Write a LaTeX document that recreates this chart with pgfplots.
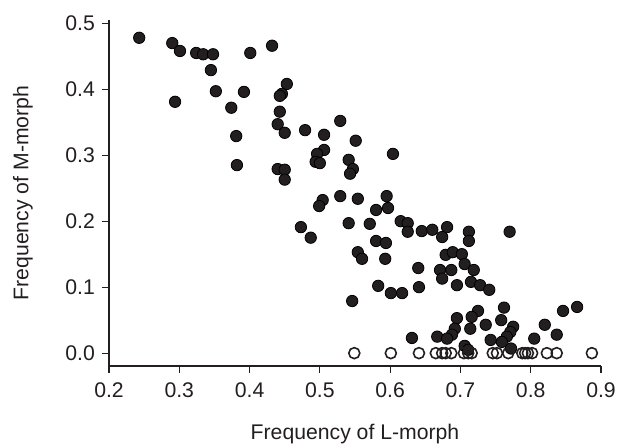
\documentclass[border=0pt]{standalone}
\usepackage{fontspec}
\setmainfont{Liberation Sans}
\usepackage{pgfplots}
\pgfplotsset{compat=1.18}
\definecolor{dotc}{HTML}{231F20}
\begin{document}
\begin{tikzpicture}
\path[use as bounding box] (-54.5pt,-41pt) rectangle (266pt,183pt);
\begin{axis}[
  at={(0,0)}, anchor=south west,
  scale only axis, width=246pt, height=173pt,
  xmin=0.2, xmax=0.9, ymin=-0.0195, ymax=0.505,
  axis lines*=left,
  axis line style={line width=0.6pt, color=dotc},
  tick style={line width=0.6pt, color=dotc},
  tick align=outside, major tick length=3.5pt,
  xtick={0.2,0.3,0.4,0.5,0.6,0.7,0.8,0.9},
  ytick={0,0.1,0.2,0.3,0.4,0.5},
  /pgf/number format/fixed,
  /pgf/number format/fixed zerofill,
  /pgf/number format/precision=1,
  /pgf/number format/assume math mode=true,
  xticklabel style={yshift=-1.2pt},
  tick label style={font=\fontsize{10.6}{12}\selectfont, text=dotc},
  label style={font=\fontsize{10.6}{12}\selectfont, text=dotc},
  xlabel={Frequency of L-morph},
  ylabel={Frequency of M-morph},
  xlabel style={at={(axis description cs:0.5,-0.1965)}, anchor=center},
  ylabel style={at={(axis description cs:-0.175,0.5)}, anchor=center},
  clip=false,
]
\addplot[only marks, mark=*, mark size=2.85pt, mark options={fill=dotc, draw=none}] coordinates {
(0.243,0.478) (0.290,0.470) (0.301,0.458) (0.324,0.455) (0.334,0.453) (0.348,0.453)
(0.401,0.455) (0.432,0.466) (0.345,0.429) (0.453,0.408) (0.446,0.393) (0.443,0.390)
(0.352,0.397) (0.392,0.396) (0.294,0.381) (0.374,0.372) (0.443,0.366) (0.440,0.347)
(0.450,0.334) (0.381,0.329) (0.479,0.338) (0.506,0.331) (0.529,0.352) (0.551,0.322)
(0.506,0.308) (0.496,0.302) (0.494,0.290) (0.500,0.288) (0.541,0.293) (0.547,0.279)
(0.543,0.272) (0.382,0.285) (0.440,0.279) (0.450,0.278) (0.450,0.263) (0.504,0.232)
(0.499,0.223) (0.529,0.238) (0.554,0.234) (0.604,0.302) (0.595,0.238) (0.580,0.217)
(0.597,0.220) (0.473,0.191) (0.487,0.175) (0.541,0.197) (0.571,0.196) (0.615,0.200)
(0.625,0.197) (0.625,0.184) (0.645,0.185) (0.660,0.187) (0.681,0.191) (0.674,0.176)
(0.712,0.184) (0.712,0.170) (0.770,0.184) (0.580,0.170) (0.594,0.167) (0.554,0.153)
(0.560,0.143) (0.593,0.143) (0.640,0.129) (0.679,0.149) (0.689,0.153) (0.702,0.150)
(0.706,0.135) (0.719,0.126) (0.671,0.126) (0.687,0.126) (0.674,0.113) (0.695,0.103)
(0.715,0.108) (0.728,0.103) (0.741,0.096) (0.583,0.102) (0.601,0.091) (0.617,0.091)
(0.641,0.100) (0.546,0.079) (0.725,0.064) (0.716,0.055) (0.695,0.053) (0.762,0.069)
(0.758,0.050) (0.736,0.043) (0.692,0.037) (0.688,0.028) (0.714,0.037) (0.667,0.025)
(0.681,0.022) (0.775,0.040) (0.771,0.032) (0.766,0.025) (0.743,0.020) (0.759,0.017)
(0.772,0.007) (0.706,0.011) (0.711,0.005) (0.805,0.022) (0.820,0.043) (0.837,0.028)
(0.846,0.064) (0.866,0.070) (0.631,0.023)
};
\addplot[only marks, mark=o, mark size=2.75pt, mark options={draw=dotc, line width=0.8pt, fill=none}] coordinates {
(0.549,0) (0.601,0) (0.641,0) (0.665,0) (0.674,0) (0.679,0) (0.687,0)
(0.705,0) (0.711,0) (0.716,0) (0.746,0) (0.752,0) (0.768,0) (0.788,0)
(0.792,0) (0.796,0) (0.802,0) (0.823,0) (0.837,0) (0.887,0)
};
\end{axis}
\end{tikzpicture}
\end{document}
